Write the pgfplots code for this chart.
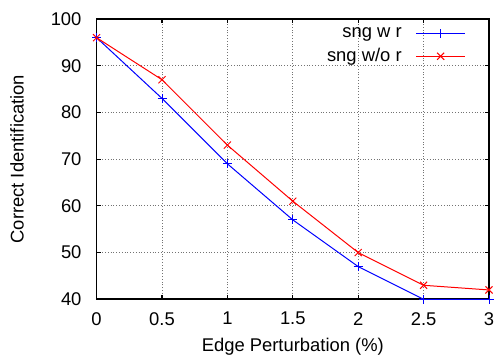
\documentclass[border=0pt]{standalone}
\usepackage{pgfplots}
\pgfplotsset{compat=1.18}
\usepackage{fontspec}
\setmainfont{Liberation Sans}
\begin{document}
\fontsize{9.2}{11}\selectfont
\begin{tikzpicture}
\begin{axis}[
  scale only axis,
  width=196.2pt, height=140.15pt,
  xmin=0, xmax=3, ymin=40, ymax=100,
  xtick={0,0.5,1,1.5,2,2.5,3},
  ytick={40,50,60,70,80,90,100},
  tick align=inside,
  major tick length=2pt,
  axis line style={line width=0.8pt},
  tick style={black, line width=0.6pt},
  grid=major,
  grid style={densely dotted, black!55, line width=0.5pt},
  /pgf/number format/assume math mode=true,
  yticklabel style={xshift=-4.3pt},
  xticklabel style={yshift=-3.2pt},
  xlabel={Edge Perturbation (\%)},
  ylabel={Correct Identification},
  xlabel style={at={(axis description cs:0.5,-0.170)}, anchor=center},
  ylabel style={at={(axis description cs:-0.203,0.5)}, anchor=center, rotate=0},
  legend style={draw=none, fill=none, at={(rel axis cs:1,1)}, anchor=north east,
    xshift=-11.5pt, yshift=-2pt, legend cell align=right, row sep=0.1pt,
    column sep=5pt, inner sep=0pt},
  legend plot pos=right,
  legend image code/.code={\draw[mark repeat=2,mark phase=2] plot coordinates {(0cm,0cm) (0.43cm,0cm) (0.86cm,0cm)};},
]
\addplot[blue, line width=0.5pt, mark=+, mark size=2.25pt, mark options={line width=0.5pt}] coordinates {
  (0,96) (0.5,83) (1,69) (1.5,57) (2,47) (2.5,40) (3,40)};
\addlegendentry{sng w r}
\addplot[red, line width=0.5pt, mark=x, mark size=2.5pt, mark options={line width=0.5pt}] coordinates {
  (0,96) (0.5,87) (1,73) (1.5,61) (2,50) (2.5,43) (3,42)};
\addlegendentry{sng w/o r}
\coordinate (LL) at (rel axis cs:0,0);
\coordinate (UR) at (rel axis cs:1,1);
\end{axis}
\pgfresetboundingbox
\path (LL) ++(-48.3pt,-28.35pt) coordinate (BL);
\path (UR) ++(3.5pt,9.5pt) coordinate (TR);
\path[use as bounding box] (BL) rectangle (TR);
\end{tikzpicture}
\end{document}
